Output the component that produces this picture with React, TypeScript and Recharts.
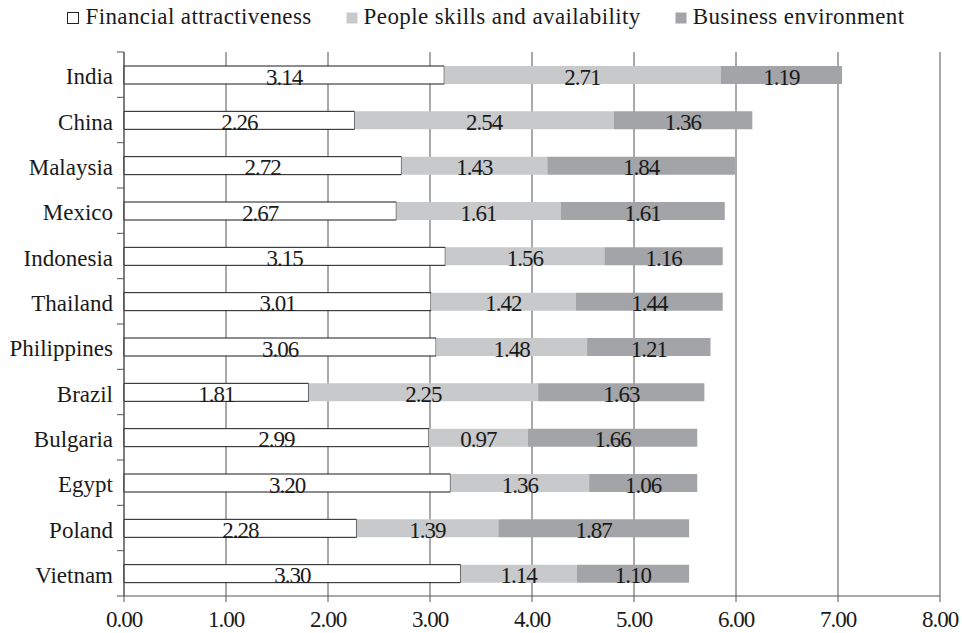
import React from 'react';
import { BarChart, Bar, XAxis, YAxis, CartesianGrid, LabelList } from 'recharts';

// Country scores, listed top to bottom
const categories = [
  'India', 'China', 'Malaysia', 'Mexico', 'Indonesia', 'Thailand',
  'Philippines', 'Brazil', 'Bulgaria', 'Egypt', 'Poland', 'Vietnam',
];
const financial = [3.14, 2.26, 2.72, 2.67, 3.15, 3.01, 3.06, 1.81, 2.99, 3.2, 2.28, 3.3];
const people = [2.71, 2.54, 1.43, 1.61, 1.56, 1.42, 1.48, 2.25, 0.97, 1.36, 1.39, 1.14];
const business = [1.19, 1.36, 1.84, 1.61, 1.16, 1.44, 1.21, 1.63, 1.66, 1.06, 1.87, 1.1];
const xTicks = [0, 1, 2, 3, 4, 5, 6, 7, 8];

const seriesNames = ['Financial attractiveness', 'People skills and availability', 'Business environment'];
const seriesKeys = ['financial', 'people', 'business'];
const seriesFills = ['#ffffff', '#c8c9cb', '#a3a4a7'];

const data = categories.map((country, i) => ({
  country,
  financial: financial[i],
  people: people[i],
  business: business[i],
}));

const W = 962;
const H = 633;
const TOP = 52;
const XAXIS_H = 37;
const BAND = (H - TOP - XAXIS_H) / categories.length;
const AXIS_COLOR = '#555';
const TEXT_COLOR = '#1a1a1a';
const FONT = '"Liberation Serif", "Times New Roman", serif';

const CategoryTick = (props: any) => {
  const { x, y, payload, index } = props;
  const last = index === categories.length - 1;
  return (
    <g>
      <line x1={x - 7} x2={x} y1={y - BAND / 2} y2={y - BAND / 2} stroke={AXIS_COLOR} strokeWidth={1} />
      {last && <line x1={x - 7} x2={x} y1={y + BAND / 2} y2={y + BAND / 2} stroke={AXIS_COLOR} strokeWidth={1} />}
      <text x={x - 11} y={y + 9.5} textAnchor="end" fill={TEXT_COLOR} fontFamily={FONT} fontSize={23}>
        {payload.value}
      </text>
    </g>
  );
};

const ValueLabel = (props: any) => {
  const { x, y, width, height, value } = props;
  return (
    <text
      x={x + width / 2}
      y={y + height + 0.5}
      textAnchor="middle"
      fill={TEXT_COLOR}
      fontFamily={FONT}
      fontSize={23}
      letterSpacing={-1}
    >
      {Number(value).toFixed(2)}
    </text>
  );
};

const LegendRow = () => (
  <div
    style={{
      position: 'absolute',
      top: 4,
      left: 0,
      width: W,
      paddingLeft: 10,
      boxSizing: 'border-box',
      display: 'flex',
      justifyContent: 'center',
      gap: 34,
      fontSize: 23,
      lineHeight: '26px',
      letterSpacing: 0.4,
      color: TEXT_COLOR,
      fontFamily: FONT,
      whiteSpace: 'nowrap',
    }}
  >
    {seriesNames.map((name, i) => (
      <span key={name}>
        <svg width={13} height={12} style={{ verticalAlign: 'baseline', marginRight: 5 }}>
          <rect
            x={0.5}
            y={0.5}
            width={11}
            height={11}
            fill={seriesFills[i]}
            stroke={i === 0 ? '#222' : 'none'}
            strokeWidth={1}
          />
        </svg>
        {name}
      </span>
    ))}
  </div>
);

export default function App() {
  return (
    <div style={{ position: 'absolute', left: 0, top: 0, width: W, height: H, background: '#fff' }}>
      <LegendRow />
      <BarChart
        width={W}
        height={H}
        data={data}
        layout="vertical"
        margin={{ top: TOP, right: 22, left: 0, bottom: 0 }}
        barSize={18}
      >
        <CartesianGrid horizontal={false} stroke={AXIS_COLOR} strokeWidth={1} />
        <XAxis
          type="number"
          domain={[0, 8]}
          ticks={xTicks}
          interval={0}
          height={XAXIS_H}
          tickFormatter={(v: number) => v.toFixed(2)}
          axisLine={{ stroke: AXIS_COLOR }}
          tickLine={{ stroke: AXIS_COLOR }}
          tickSize={6}
          tickMargin={9}
          tick={{ fill: TEXT_COLOR, fontFamily: FONT, fontSize: 23, letterSpacing: -1 }}
        />
        <YAxis
          type="category"
          dataKey="country"
          width={124}
          interval={0}
          tickSize={0}
          tickMargin={0}
          tickLine={false}
          axisLine={{ stroke: AXIS_COLOR }}
          tick={<CategoryTick />}
        />
        {seriesKeys.map((key, i) => (
          <Bar
            key={key}
            dataKey={key}
            name={seriesNames[i]}
            stackId="total"
            fill={seriesFills[i]}
            stroke={i === 0 ? '#1a1a1a' : 'none'}
            strokeWidth={1}
            isAnimationActive={false}
          >
            <LabelList dataKey={key} content={<ValueLabel />} />
          </Bar>
        ))}
      </BarChart>
    </div>
  );
}
